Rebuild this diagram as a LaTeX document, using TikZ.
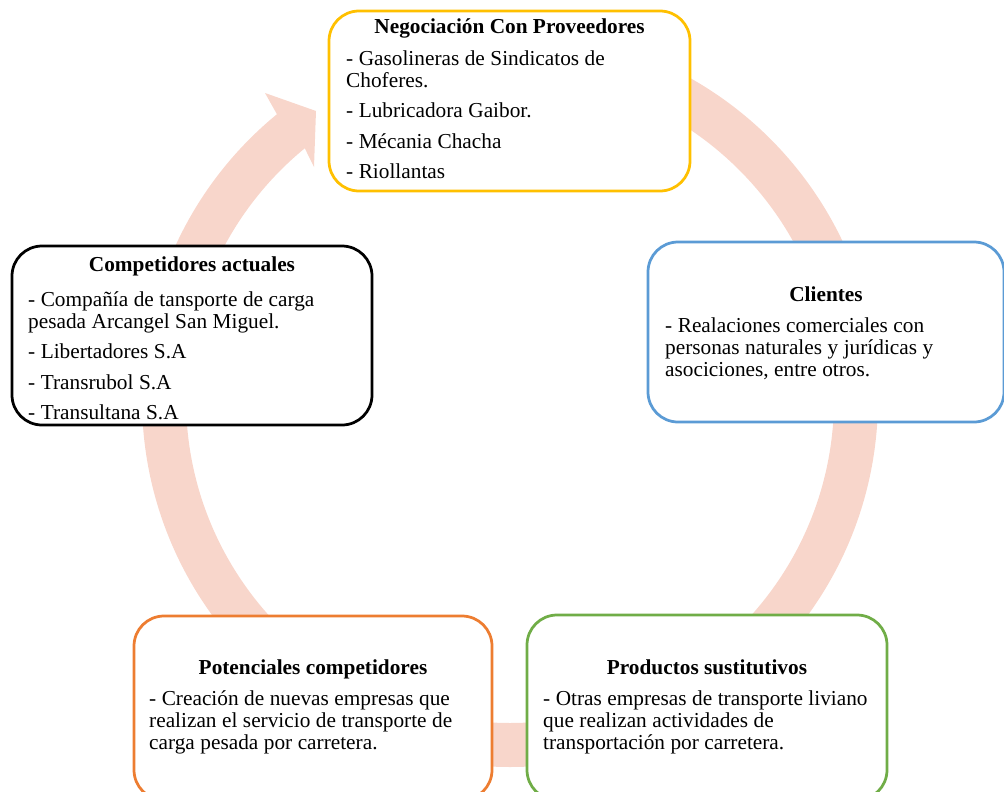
\documentclass[tikz,border=0pt]{standalone}
\usepackage{fontspec}
\setmainfont{Liberation Serif}
\usetikzlibrary{calc}
\definecolor{ringc}{RGB}{248,214,203}
\definecolor{cyellow}{RGB}{255,192,0}
\definecolor{cblue}{RGB}{91,155,213}
\definecolor{corange}{RGB}{237,125,49}
\definecolor{cgreen}{RGB}{112,173,71}
\newcommand\bodysetup{\spaceskip=5.5pt plus 1pt minus 0.5pt\relax\parskip=8.5pt\relax\parindent=0pt\relax\rule{0pt}{17pt}}
\begin{document}
\begin{tikzpicture}[x=1pt,y=1pt,
  box/.style={draw=#1, line width=2.75pt, rounded corners=30pt, fill=white, rectangle, inner sep=0pt},
  boxtitle/.style={font=\fontsize{21.3}{22}\selectfont\bfseries, anchor=base, inner sep=0pt},
  boxbody/.style={font=\fontsize{21.3}{22}\selectfont, anchor=north west, inner sep=0pt, text width=345pt, align=left},
  ring/.style={draw=ringc, line width=44pt}]
\clip (0,0) rectangle (1004,-792);
\coordinate (C) at (510,-399);
% circular arrow
\draw[ring] ($(C)+(90:346)$) arc[start angle=90, end angle=-231.5, radius=346];
\fill[ringc] ($(C)+(129.3:368)$) -- (265,-93) -- (316,-111) -- (314,-167) -- ($(C)+(129.3:324)$) -- cycle;
% boxes
\node[box=cyellow, minimum width=361pt, minimum height=180pt] (neg) at (509.5,-101) {};
\node[box=black, minimum width=360pt, minimum height=179pt] (comp) at (192,-335.5) {};
\node[box=cblue, minimum width=356pt, minimum height=180pt] (cli) at (826,-332) {};
\node[box=corange, minimum width=358pt, minimum height=184pt] (pot) at (313,-708) {};
\node[box=cgreen, minimum width=360pt, minimum height=185pt] (prod) at (707,-707.5) {};
% titles
\node[boxtitle] (negt) at (509.5,-34) {Negociación Con Proveedores};
\node[boxtitle] (compt) at (192,-271) {Competidores actuales};
\node[boxtitle] (clit) at (826,-301) {Clientes};
\node[boxtitle] (pott) at (313,-674) {Potenciales competidores};
\node[boxtitle] (prodt) at (707,-674) {Productos sustitutivos};
% bodies
\node[boxbody] (negb) at (346,-48) {\bodysetup- Gasolineras de Sindicatos de\\Choferes.\par - Lubricadora Gaibor.\par - Mécania Chacha\par - Riollantas};
\node[boxbody] (compb) at (28,-289) {\bodysetup- Compañía de tansporte de carga\\pesada Arcangel San Miguel.\par - Libertadores S.A\par - Transrubol S.A\par - Transultana S.A};
\node[boxbody] (clib) at (665,-315) {\bodysetup- Realaciones comerciales con\\personas naturales y jurídicas y\\asociciones, entre otros.};
\node[boxbody] (potb) at (149,-688) {\bodysetup- Creación de nuevas empresas que\\realizan el servicio de transporte de\\carga pesada por carretera.};
\node[boxbody] (prodb) at (543,-688) {\bodysetup- Otras empresas de transporte liviano\\que realizan actividades de\\transportación por carretera.};
\end{tikzpicture}
\end{document}
